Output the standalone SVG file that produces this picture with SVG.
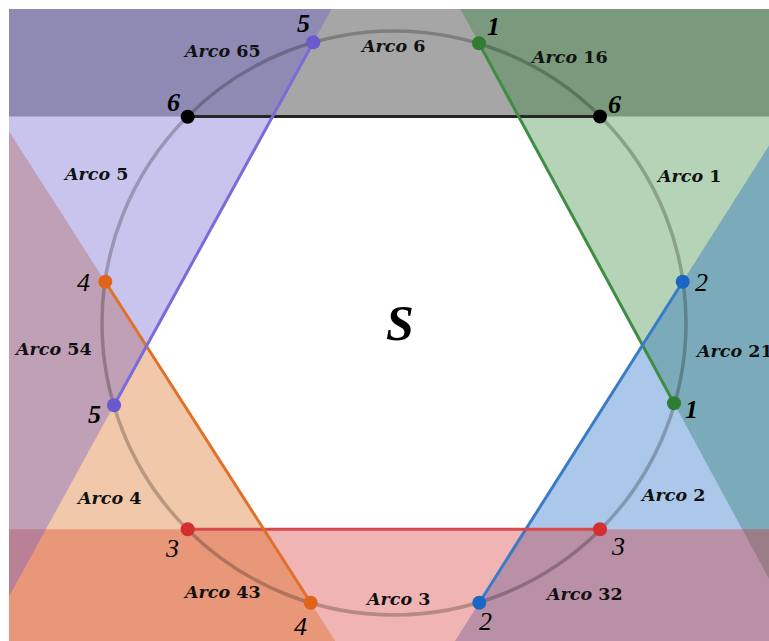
<svg xmlns="http://www.w3.org/2000/svg" width="769" height="641" viewBox="0 0 769 641">
<style>
.reg{fill-opacity:0.35;stroke:none}
.chord{stroke-width:3;fill:none;stroke-linecap:butt}
.arc{font-family:"DejaVu Serif",serif;font-weight:bold;font-size:17.5px;fill:#111}
.arc .it{font-style:italic}
.pt{font-family:"Liberation Serif","DejaVu Serif",serif;font-style:italic;font-size:26px;fill:#000}
.b{font-weight:bold}
</style>
<rect width="769" height="641" fill="#fff"/>
<g id="regions">
<rect id="reg6" class="reg" x="9" y="9" width="760" height="107.5" fill="#000"/>
<polygon id="reg1" class="reg" points="460.4,9 769,9 769,578.7" fill="#2c812e"/>
<polygon id="reg2" class="reg" points="769,145.5 769,641 455,641" fill="#0f62c3"/>
<rect id="reg3" class="reg" x="9" y="529.3" width="760" height="111.7" fill="#d42929"/>
<polygon id="reg4" class="reg" points="9,131.2 335.2,641 9,641" fill="#da620c"/>
<polygon id="reg5" class="reg" points="9,9 331.6,9 9,596.5" fill="#6256ce"/>
</g>
<circle id="circle" cx="394" cy="323" r="292" fill="none" stroke="#000" stroke-opacity="0.24" stroke-width="3.5"/>
<g id="connectors">
<line class="chord" x1="187.7" y1="116.5" x2="600" y2="116.5" stroke="#262626"/>
<line class="chord" x1="479" y1="43.3" x2="674" y2="403.3" stroke="#3e8d42"/>
<line class="chord" x1="682.7" y1="281.7" x2="479.3" y2="602.7" stroke="#3a7bc9"/>
<line class="chord" x1="187.7" y1="529.3" x2="600" y2="529.3" stroke="#d84a4b"/>
<line class="chord" x1="105.3" y1="281.7" x2="310.7" y2="602.7" stroke="#e0702a"/>
<line class="chord" x1="313.3" y1="42.3" x2="114" y2="405.3" stroke="#7a6bd8"/>
</g>
<g id="nodes">
<g id="p6a"><circle cx="187.7" cy="116.7" r="7" fill="#000"/><text class="pt b" x="167" y="111">6</text></g>
<g id="p6b"><circle cx="600" cy="116.5" r="7" fill="#000"/><text class="pt b" x="608" y="113">6</text></g>
<g id="p1a"><circle cx="479" cy="43.3" r="7" fill="#2e7d32"/><text class="pt b" x="487" y="35">1</text></g>
<g id="p1b"><circle cx="674" cy="403.3" r="7" fill="#2e7d32"/><text class="pt b" x="685" y="418">1</text></g>
<g id="p2a"><circle cx="682.7" cy="281.7" r="7" fill="#1a66c4"/><text class="pt" x="695" y="291">2</text></g>
<g id="p2b"><circle cx="479.3" cy="602.7" r="7" fill="#1a66c4"/><text class="pt" x="479" y="630">2</text></g>
<g id="p3a"><circle cx="187.7" cy="529.3" r="7" fill="#d32f2f"/><text class="pt" x="166" y="557">3</text></g>
<g id="p3b"><circle cx="600" cy="529.3" r="7" fill="#d32f2f"/><text class="pt" x="612" y="555">3</text></g>
<g id="p4a"><circle cx="105.3" cy="281.7" r="7" fill="#e0631a"/><text class="pt" x="77" y="291">4</text></g>
<g id="p4b"><circle cx="310.7" cy="602.7" r="7" fill="#e0631a"/><text class="pt" x="294" y="635">4</text></g>
<g id="p5a"><circle cx="313.3" cy="42.3" r="7" fill="#6a5acd"/><text class="pt b" x="297" y="32">5</text></g>
<g id="p5b"><circle cx="114" cy="405.3" r="7" fill="#6a5acd"/><text class="pt b" x="88" y="423">5</text></g>
</g>
<g id="labels">
<text class="arc" x="185" y="57"><tspan class="it">Arco</tspan> 65</text>
<text class="arc" x="362" y="51.5"><tspan class="it">Arco</tspan> 6</text>
<text class="arc" x="532" y="63.3"><tspan class="it">Arco</tspan> 16</text>
<text class="arc" x="65" y="180"><tspan class="it">Arco</tspan> 5</text>
<text class="arc" x="658" y="181.7"><tspan class="it">Arco</tspan> 1</text>
<text class="arc" x="16" y="355"><tspan class="it">Arco</tspan> 54</text>
<text class="arc" x="697" y="356.7"><tspan class="it">Arco</tspan> 21</text>
<text class="arc" x="78" y="504"><tspan class="it">Arco</tspan> 4</text>
<text class="arc" x="642" y="500.7"><tspan class="it">Arco</tspan> 2</text>
<text class="arc" x="185" y="598"><tspan class="it">Arco</tspan> 43</text>
<text class="arc" x="367" y="605"><tspan class="it">Arco</tspan> 3</text>
<text class="arc" x="547" y="600"><tspan class="it">Arco</tspan> 32</text>
<text x="386" y="340" font-family="Liberation Serif,serif" font-style="italic" font-weight="bold" font-size="50" fill="#000">S</text>
</g>
</svg>
